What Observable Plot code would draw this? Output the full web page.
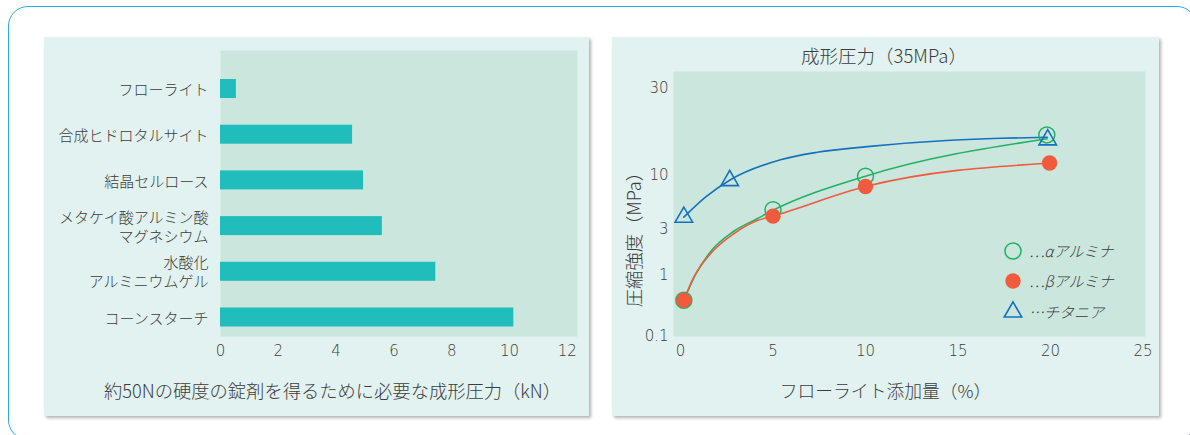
<!DOCTYPE html>
<html><head><meta charset="utf-8">
<script src="https://cdn.jsdelivr.net/npm/d3@7"></script>
<script src="https://cdn.jsdelivr.net/npm/@observablehq/plot@0.6"></script>
<style>
html,body{margin:0;padding:0;background:#fff;}
body{width:1190px;height:435px;overflow:hidden;position:relative;font-family:"Noto Sans CJK JP","Noto Sans",sans-serif;font-weight:300;color:#3c3c3c;}
#frame{position:absolute;left:8px;top:6px;width:1189px;height:434px;border:1.5px solid #2aa9e0;border-radius:20px;box-sizing:border-box;}
.panel{position:absolute;top:37px;height:379px;background:#e2f2f0;box-shadow:2px 2px 3px rgba(0,0,0,0.3);}
#left{left:44px;width:545px;}
#right{left:612px;width:547px;}
.panel svg{position:absolute;left:0;top:0;}
.txt{position:absolute;white-space:nowrap;text-align:center;width:600px;}
.leg{position:absolute;white-space:nowrap;font-size:15px;font-style:italic;line-height:20px;height:20px;}
.leg svg{position:absolute;left:0;top:0;overflow:visible;}
.leg span{position:absolute;left:16px;top:0;}
</style></head><body>
<div id="frame"></div>
<div class="panel" id="left"></div>
<div class="panel" id="right"></div>
<script>
// ---- Left chart data ----
const categories = ["フローライト", "合成ヒドロタルサイト", "結晶セルロース", "メタケイ酸アルミン酸\nマグネシウム", "水酸化\nアルミニウムゲル", "コーンスターチ"];
const forces = [0.55, 4.57, 4.95, 5.6, 7.45, 10.15];
const leftTicks = [0, 2, 4, 6, 8, 10, 12];
const leftCaption = "約50Nの硬度の錠剤を得るために必要な成形圧力（kN）";

// ---- Right chart data: measured points ----
const title = "成形圧力（35MPa）";
const alphaX = [0.18, 5, 10, 19.8];
const alphaY = [0.39, 4.66, 9.85, 16.7];
const betaX = [0.18, 5, 10, 19.95];
const betaY = [0.39, 4.04, 7.82, 11.7];
const titaniaX = [0.18, 2.66, 19.85];
const titaniaY = [3.95, 8.94, 15.7];
// ---- Right chart data: fitted curves ----
const alphaCurveX = [0.18, 0.81, 1.68, 2.86, 4.16, 5, 10, 19.82];
const alphaCurveY = [0.39, 1.02, 1.82, 2.86, 3.83, 4.6, 9.85, 15.9];
const betaCurveX = [0.18, 0.72, 1.62, 2.88, 4.15, 5, 10, 19.95];
const betaCurveY = [0.39, 0.94, 1.68, 2.71, 3.66, 4.04, 7.82, 11.7];
const titaniaCurveX = [0.18, 1.35, 2.7, 5.41, 7.39, 10.09, 14.6, 17.3, 19.82];
const titaniaCurveY = [3.95, 6.17, 9.1, 12.2, 13.4, 14.4, 15.6, 16.0, 16.2];
const rightXTicks = [0, 5, 10, 15, 20, 25];
const rightYTicks = [0.1, 1, 3, 10, 30];
const xLabel = "フローライト添加量（%）";
const yLabel = "圧縮強度（MPa）";
const legendNames = ["…αアルミナ", "…βアルミナ", "…チタニア"];

const green = "#22b163", red = "#f15a3c", blue = "#1570c0";
const tickFont = "DejaVu Sans, Noto Sans, sans-serif";
const jp = "Noto Sans CJK JP, sans-serif";

const barData = categories.map((c, i) => ({name: c, force: forces[i]}));
const leftPlot = Plot.plot({
  width: 545, height: 379,
  marginLeft: 176, marginRight: 12, marginTop: 13, marginBottom: 80,
  style: {background: "transparent", color: "#3c3c3c", fontFamily: jp, overflow: "visible"},
  x: {domain: [0, 12], insetRight: 10.2},
  y: {domain: categories, paddingInner: 0.584, paddingOuter: 0, insetTop: 29, insetBottom: 9.5, round: false},
  marks: [
    Plot.frame({fill: "#cae6dd", stroke: "none"}),
    Plot.barX(barData, {x: "force", y: "name", fill: "#21bdbd"}),
    Plot.axisX({ticks: leftTicks, tickSize: 0, tickPadding: 9, fontSize: 15, fontFamily: tickFont, label: null, fill: "#3c3c3c"}),
    Plot.axisY({tickSize: 0, tickPadding: 12, fontSize: 15, lineHeight: 1.27, fontFamily: jp, fontWeight: 300, label: null, fill: "#3c3c3c"})
  ]
});
document.getElementById("left").appendChild(leftPlot);

const toRows = (xs, ys) => xs.map((x, i) => ({x, y: ys[i]}));
const alpha = toRows(alphaX, alphaY), beta = toRows(betaX, betaY), titania = toRows(titaniaX, titaniaY);
const alphaCurve = toRows(alphaCurveX, alphaCurveY), betaCurve = toRows(betaCurveX, betaCurveY), titaniaCurve = toRows(titaniaCurveX, titaniaCurveY);

const rightPlot = Plot.plot({
  width: 547, height: 379,
  marginLeft: 61, marginRight: 14, marginTop: 34, marginBottom: 80,
  style: {background: "transparent", color: "#3c3c3c", fontFamily: jp, overflow: "visible"},
  x: {domain: [0, 25], insetLeft: 7, insetRight: 2.5},
  y: {type: "log", domain: rightYTicks, range: [298.5, 238, 192, 138, 51]},
  marks: [
    Plot.frame({fill: "#cae6dd", stroke: "none"}),
    Plot.line(alphaCurve, {x: "x", y: "y", stroke: green, strokeWidth: 1.6, curve: "monotone-x"}),
    Plot.line(betaCurve, {x: "x", y: "y", stroke: red, strokeWidth: 1.6, curve: "monotone-x"}),
    Plot.line(titaniaCurve, {x: "x", y: "y", stroke: blue, strokeWidth: 1.6, curve: "monotone-x"}),
    Plot.dot(alpha, {x: "x", y: "y", r: 8, stroke: green, strokeWidth: 1.5, fill: "none"}),
    Plot.dot(beta, {x: "x", y: "y", r: 7.7, fill: red, stroke: "none"}),
    Plot.dot(titania, {x: "x", y: "y", r: 6.5, symbol: "triangle", stroke: blue, strokeWidth: 1.6, fill: "none"}),
    Plot.axisX({ticks: rightXTicks, tickSize: 0, tickPadding: 9, fontSize: 15, fontFamily: tickFont, label: null, fill: "#3c3c3c"}),
    Plot.axisY({ticks: rightYTicks, tickFormat: d => `${d}`, tickSize: 0, tickPadding: 5, fontSize: 15, fontFamily: tickFont, label: null, fill: "#3c3c3c"})
  ]
});
document.getElementById("right").appendChild(rightPlot);

// ---- HTML texts ----
function addText(str, cx, cy, size, rotate) {
  const d = document.createElement("div");
  d.className = "txt";
  d.textContent = str;
  d.style.fontSize = size + "px";
  d.style.lineHeight = "24px";
  d.style.left = (cx - 300) + "px";
  d.style.top = (cy - 12) + "px";
  if (rotate) d.style.transform = "rotate(-90deg)";
  document.body.appendChild(d);
}
addText(title, 884, 55, 18.5);
addText(leftCaption, 332.5, 390, 18.3);
addText(xLabel, 885.5, 390, 17.8);
addText(yLabel, 633, 235, 18.3, true);

// ---- legend ----
const legendSymbols = [
  `<circle cx="0" cy="10" r="8" fill="none" stroke="${green}" stroke-width="1.5"/>`,
  `<circle cx="0" cy="10" r="7.7" fill="${red}"/>`,
  `<path d="${d3.symbol(d3.symbolTriangle, Math.PI * 6.5 * 6.5)()}" transform="translate(0,10)" fill="none" stroke="${blue}" stroke-width="1.6"/>`
];
const legendY = [251, 281, 311.5];
legendNames.forEach((name, i) => {
  const d = document.createElement("div");
  d.className = "leg";
  d.style.left = "1013px";
  d.style.top = (legendY[i] - 10) + "px";
  d.innerHTML = `<svg width="1" height="20">${legendSymbols[i]}</svg><span>${name}</span>`;
  document.body.appendChild(d);
});
</script>
</body></html>
